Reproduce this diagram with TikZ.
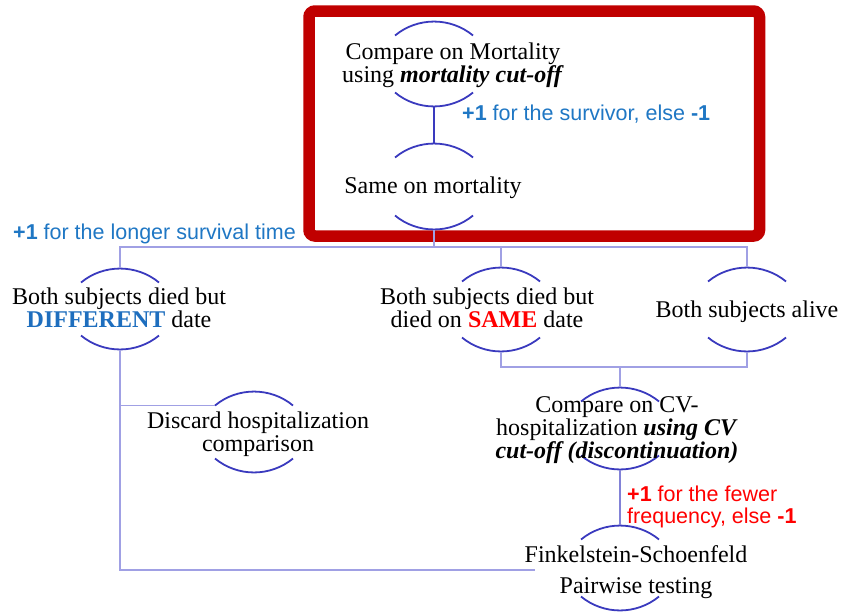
\documentclass[tikz,border=0pt]{standalone}
\usepackage{fontspec}
\setmainfont{Liberation Serif}
\newfontfamily\lblfont{Liberation Sans}
\definecolor{framered}{RGB}{192,0,0}
\definecolor{arcblue}{RGB}{58,58,190}
\definecolor{connlight}{RGB}{160,160,228}
\definecolor{connmid}{RGB}{130,130,215}
\definecolor{txtblue}{RGB}{31,119,196}
\definecolor{difblue}{RGB}{30,110,190}
\definecolor{txtred}{RGB}{255,0,0}
\tikzset{
  arcline/.style={draw=arcblue, line width=1.8pt},
  conn/.style={draw=connlight, line width=1.6pt},
  stepbox/.style={font=\fontsize{24}{23}\selectfont, align=center, anchor=base, inner sep=0pt},
  lbl/.style={font=\lblfont\fontsize{21.5}{22}\selectfont, anchor=base west, inner sep=0pt, align=left},
}
% pair of circular bracket arcs above and below a step:
% #1 name, #2 centre x, #3 y of upper arc peak, #4 y of lower arc peak
\newcommand\steparcs[4]{%
  \coordinate (#1-t) at (#2,#3);
  \coordinate (#1-b) at (#2,#4);
  \coordinate (#1-tl) at ({#2-39},{#3+14.5});
  \draw[arcline] ({#2-39},{#3+14.5}) .. controls ({#2-16.4},{#3-4.1}) and ({#2+16.4},{#3-4.1}) .. ({#2+39},{#3+14.5});
  \draw[arcline] ({#2-39},{#4-14.5}) .. controls ({#2-16.4},{#4+4.1}) and ({#2+16.4},{#4+4.1}) .. ({#2+39},{#4-14.5});
}
\begin{document}
\begin{tikzpicture}[x=1pt, y=-1pt]
\useasboundingbox (0,0) rectangle (842,613);

% highlighted mortality stage
\draw[framered, line width=11.5pt, rounded corners=6pt] (309,11) rectangle (759.5,236);

% bracket arcs of every step
\steparcs{cmpA}{434}{21}{107}
\steparcs{sameA}{434}{143}{230}
\steparcs{diffA}{120}{268}{350}
\steparcs{samdA}{501}{267}{352}
\steparcs{aliveA}{747}{267}{352}
\steparcs{discA}{254}{391}{473}
\steparcs{cvA}{620}{387}{470}
\steparcs{fsA}{620}{525}{611}

% junction points
\coordinate (bar) at (434,247);
\coordinate (bar2) at (620,367);
\coordinate (fsend) at (535,570);

% connectors
\draw[arcline] (cmpA-b) -- (sameA-t);
\draw[conn] (sameA-b) -- (bar);
\draw[conn] (diffA-t) |- (bar) -| (aliveA-t);
\draw[conn] (samdA-t) -- (samdA-t |- bar);
\draw[conn] (samdA-b) |- (bar2) -| (aliveA-b);
\draw[conn] (bar2) -- (cvA-t);
\draw[draw=connmid, line width=1.6pt] (cvA-b) -- (fsA-t);
\draw[conn] (diffA-b) |- (fsend);
\draw[conn] (diffA-b |- discA-tl) -- (discA-tl);

% step texts (base anchor sits on the last line)
\node[stepbox] (cmp) at (453,82) {Compare on Mortality\\using \textbf{\textit{mortality cut-off}}};
\node[stepbox] (same) at (433,193) {Same on mortality};
\node[stepbox] (diff) at (119,327) {Both subjects died but\\\textcolor{difblue}{\textbf{DIFFERENT}} date};
\node[stepbox] (samd) at (487,327) {Both subjects died but\\died on \textcolor{txtred}{\textbf{SAME}} date};
\node[stepbox] (alive) at (747,317) {Both subjects alive};
\node[stepbox] (disc) at (258,451) {Discard hospitalization\\comparison};
\node[stepbox, font=\fontsize{24}{21.5}\selectfont] (cv) at (617,458) {Compare on CV-\\hospitalization \textbf{\textit{using CV}}\\\textbf{\textit{cut-off (discontinuation)}}};
\node[stepbox, font=\fontsize{24}{31}\selectfont] (fs) at (636,593) {Finkelstein-Schoenfeld\\Pairwise testing};

% scoring rules
\node[lbl, text=txtblue] (surv) at (462,120) {\textbf{+1} for the survivor, else \textbf{-1}};
\node[lbl, text=txtblue] (longer) at (13,239) {\textbf{+1} for the longer survival time};
\node[lbl, text=txtred] (fewer) at (627,523) {\textbf{+1} for the fewer\\frequency, else \textbf{-1}};
\end{tikzpicture}
\end{document}
